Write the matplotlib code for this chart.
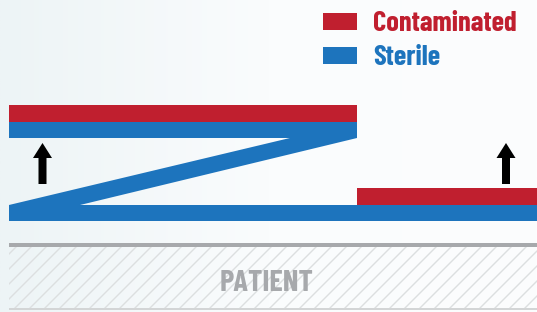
import matplotlib
matplotlib.use("Agg")
import matplotlib.pyplot as plt
import numpy as np
from matplotlib.patches import Rectangle, Polygon
from matplotlib.colors import LinearSegmentedColormap

# ---- data (diagram labels and colours) ----
legend_labels = ["Contaminated", "Sterile"]
legend_colors = ["#c01f2f", "#1d74bd"]
patient_label = "PATIENT"

RED = "#c01f2f"
BLUE = "#1d74bd"
GRAY = "#a7a9ac"
COND = ["Barlow Condensed", "Fira Sans Extra Condensed", "Roboto Condensed", "DejaVu Sans"]

W, H = 537, 312
fig = plt.figure(figsize=(W / 100, H / 100), dpi=100)
ax = fig.add_axes([0, 0, 1, 1])
ax.set_xlim(0, W)
ax.set_ylim(H, 0)
ax.axis("off")

# background gradient
grad = np.linspace(0, 1, 256)[None, :]
cmap = LinearSegmentedColormap.from_list("bg", ["#edf4f6", "#fafcfd", "#fcfdfe"])
ax.imshow(grad, extent=[0, W, H, 0], aspect="auto", cmap=cmap, zorder=0)

# top layer: red over blue
ax.add_patch(Rectangle((9, 105), 348, 17, color=RED, lw=0, zorder=2))
ax.add_patch(Rectangle((9, 122), 348, 16, color=BLUE, lw=0, zorder=2))
# diagonal
ax.add_patch(Polygon([(9, 205), (357, 122), (357, 138), (80, 205)], closed=True,
                     color=BLUE, lw=0, zorder=2))
# bottom layer
ax.add_patch(Rectangle((9, 205), W - 9, 16, color=BLUE, lw=0, zorder=2))
ax.add_patch(Rectangle((357, 188), W - 357, 17, color=RED, lw=0, zorder=2))

# arrows
for xc in [42.5, 506]:
    ax.add_patch(Polygon([(xc - 4, 184), (xc - 4, 158), (xc - 9.5, 158), (xc, 143),
                          (xc + 9.5, 158), (xc + 4, 158), (xc + 4, 184)],
                         closed=True, color="black", lw=0, zorder=3))

# legend
for i, (lab, col) in enumerate(zip(legend_labels, legend_colors)):
    y0 = 13 + i * 34
    ax.add_patch(Rectangle((323, y0), 34, 17, color=col, lw=0, zorder=3))
    ax.text(373, y0 + 18, lab, color=col, fontsize=20.5, fontweight="bold",
            family=COND, va="baseline", ha="left", zorder=3)

# patient area
ax.add_patch(Rectangle((9, 243), W - 9, 4, color=GRAY, lw=0, zorder=2))
ax.add_patch(Rectangle((9, 308), W - 9, 2, color="#d3d5d6", lw=0, zorder=2))
clip = Rectangle((9, 247), W - 9, 61, transform=ax.transData, facecolor="none", lw=0)
ax.add_patch(clip)
for x0 in np.arange(-60, W + 80, 15):
    ln, = ax.plot([x0, x0 + 61], [308, 247], color="#dcdfe0", lw=1.0, zorder=1)
    ln.set_clip_path(clip)
ax.text(266.5, 291, patient_label, color=GRAY, fontsize=22, fontweight="bold",
        family=COND, va="baseline", ha="center", zorder=3)

fig.savefig("out.png", dpi=100)
